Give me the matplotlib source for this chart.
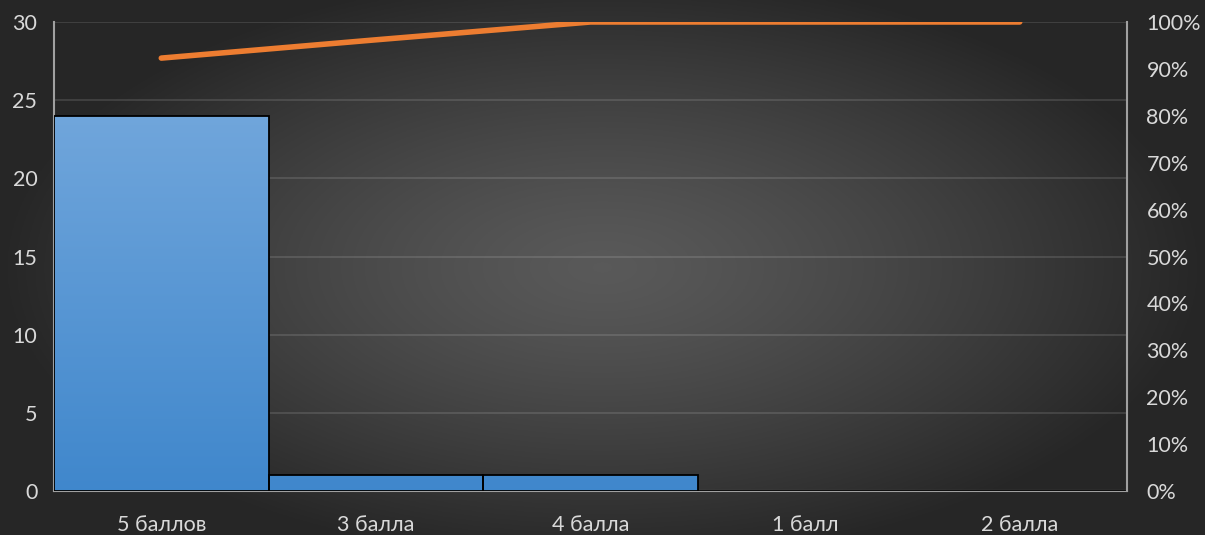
import numpy as np
import matplotlib.pyplot as plt
from matplotlib.ticker import FuncFormatter, MultipleLocator

# ----------------------------------------
# DATA
# ----------------------------------------
categories = ["5 баллов", "3 балла", "4 балла", "1 балл", "2 балла"]
counts = [24, 1, 1, 0, 0]
cum_share = [0.923, 0.962, 1.0, 1.0, 1.0]

# ----------------------------------------
# STYLE
# ----------------------------------------
plt.rcParams["font.family"] = ["Lato", "DejaVu Sans"]
TEXT = "#d9d9d9"
SPINE = "#a0a0a0"
FS = 15.5

fig = plt.figure(figsize=(12.05, 5.35), dpi=100)

# radial gradient background
bg = fig.add_axes([0, 0, 1, 1])
gx, gy = np.meshgrid(np.linspace(-1, 1, 600), np.linspace(-1, 1, 300))
r = np.sqrt(gx ** 2 + (gy * 0.9) ** 2)
shade = np.clip(0.35 - 0.2 * r ** 1.3, 0.15, 0.35)
bg.imshow(np.dstack([shade, shade, shade]), aspect="auto", extent=[0, 1, 0, 1])
bg.axis("off")

ax = fig.add_axes([0.0448, 0.0822, 0.8905, 0.8767])
ax.patch.set_alpha(0)

x = np.arange(len(categories))
bars = ax.bar(x, counts, width=1.0, color="#5b9bd5", edgecolor="black",
              linewidth=1.3, zorder=3)

# vertical gradient shared by all bars (0 .. tallest bar)
grad = np.linspace(0, 1, 256).reshape(-1, 1, 1)
top_c = np.array([0.44, 0.65, 0.86])
bot_c = np.array([0.25, 0.53, 0.80])
grad_img = (bot_c + (top_c - bot_c) * grad).repeat(2, axis=1)
for b in bars:
    if b.get_height() <= 0:
        continue
    im = ax.imshow(grad_img, origin="lower",
                   extent=[-0.5, len(categories) - 0.5, 0, max(counts)],
                   aspect="auto", zorder=3.5)
    im.set_clip_path(b)
    b.set_facecolor("none")
    b.set_zorder(4)

ax.set_xlim(-0.5, len(categories) - 0.5)
ax.set_ylim(0, 30)
ax.yaxis.set_major_locator(MultipleLocator(5))
ax.grid(axis="y", color="white", alpha=0.13, linewidth=1.3, zorder=0)
ax.set_xticks(x)
ax.set_xticklabels(categories)
ax.tick_params(axis="x", length=0, pad=17, labelsize=FS, colors=TEXT)
ax.tick_params(axis="y", length=0, pad=12, labelsize=FS, colors=TEXT)
for s in ["top", "right"]:
    ax.spines[s].set_visible(False)
ax.spines["left"].set_color(SPINE)
ax.spines["bottom"].set_color(SPINE)
ax.spines["left"].set_linewidth(1.5)
ax.spines["bottom"].set_linewidth(1.5)

ax2 = ax.twinx()
ax2.plot(x, cum_share, color="#ed7d31", linewidth=4, solid_capstyle="round",
         zorder=5)
ax2.set_ylim(0, 1.0)
ax2.yaxis.set_major_locator(MultipleLocator(0.1))
ax2.yaxis.set_major_formatter(FuncFormatter(lambda v, p: f"{v * 100:.0f}%"))
ax2.tick_params(axis="y", length=0, pad=14, labelsize=FS, colors=TEXT)
for s in ["top", "left", "bottom"]:
    ax2.spines[s].set_visible(False)
ax2.spines["right"].set_color(SPINE)
ax2.spines["right"].set_linewidth(1.5)

fig.savefig("out.png", dpi=100)
